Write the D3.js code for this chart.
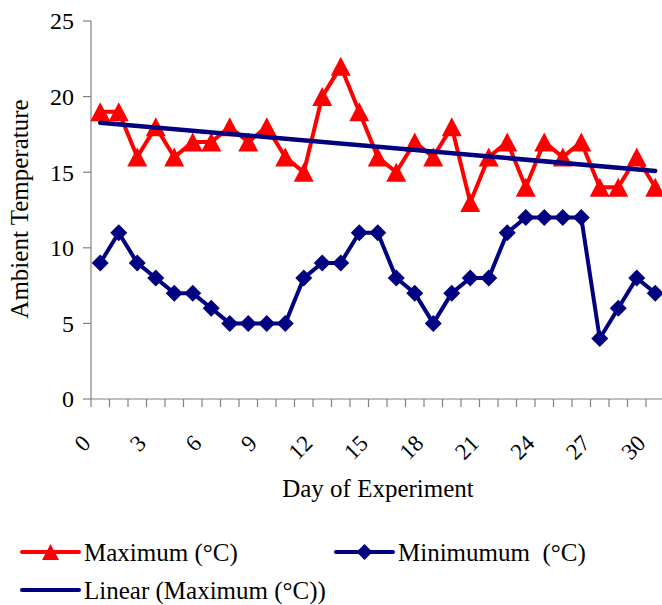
<!DOCTYPE html>
<html>
<head>
<meta charset="utf-8">
<script src="https://cdn.jsdelivr.net/npm/d3@7"></script>
<style>
  body { margin: 0; background: #fff; }
</style>
</head>
<body>
<svg id="chart" width="662" height="605"></svg>
<script>
// day index for each observation
const days = d3.range(0, 31);
const maxTemp = [19, 19, 16, 18, 16, 17, 17, 18, 17, 18, 16, 15, 20, 22, 19, 16,
                 15, 17, 16, 18, 13, 16, 17, 14, 17, 16, 17, 14, 14, 16, 14];
const minTemp = [9, 11, 9, 8, 7, 7, 6, 5, 5, 5, 5, 8, 9, 9, 11, 11,
                 8, 7, 5, 7, 8, 8, 11, 12, 12, 12, 12, 4, 6, 8, 7];
const yTicks = [0, 5, 10, 15, 20, 25];
const xLabelDays = [0, 3, 6, 9, 12, 15, 18, 21, 24, 27, 30];

const RED = '#ff0000', NAVY = '#000080', AXIS = '#808080';
const FONT = 'Liberation Serif';

const svg = d3.select('#chart');

const x = d3.scaleBand().domain(days).range([91, 664.5]);
const y = d3.scaleLinear().domain([0, 25]).range([399, 21]);
const cx = d => x(d) + x.bandwidth() / 2;

function addText(sel) {
    return sel.append('text').attr('font-family', FONT).attr('fill', '#000');
}

// axes
svg.append('line').attr('x1', 91).attr('x2', 91).attr('y1', y(25)).attr('y2', y(0))
    .attr('stroke', AXIS).attr('stroke-width', 1.2);
svg.append('line').attr('x1', 91).attr('x2', 664.5).attr('y1', y(0)).attr('y2', y(0))
    .attr('stroke', AXIS).attr('stroke-width', 1.2);

svg.append('g').selectAll('line').data(yTicks).enter().append('line')
    .attr('x1', 83).attr('x2', 91).attr('y1', d => y(d)).attr('y2', d => y(d))
    .attr('stroke', AXIS).attr('stroke-width', 1.2);
svg.append('g').attr('font-family', FONT).selectAll('text').data(yTicks).enter().append('text')
    .attr('x', 74).attr('y', d => y(d)).attr('dy', '0.35em')
    .attr('text-anchor', 'end').attr('font-size', '24px').text(d => d);

// x ticks at category boundaries
svg.append('g').selectAll('line').data(days.concat([31])).enter().append('line')
    .attr('x1', d => d < 31 ? x(d) : 664.5).attr('x2', d => d < 31 ? x(d) : 664.5)
    .attr('y1', y(0)).attr('y2', y(0) + 8)
    .attr('stroke', AXIS).attr('stroke-width', 1.2);

svg.append('g').attr('font-family', FONT).selectAll('text').data(xLabelDays).enter().append('text')
    .attr('transform', d => `translate(${cx(d) - 14},439) rotate(-45)`)
    .attr('dy', '0.35em').attr('text-anchor', 'end').attr('font-size', '23px')
    .text(d => d);

// axis titles
addText(svg).attr('transform', 'translate(28,209) rotate(-90)')
    .attr('text-anchor', 'middle').attr('font-size', '25px').text('Ambient Temperature');
addText(svg).attr('x', 378).attr('y', 497)
    .attr('text-anchor', 'middle').attr('font-size', '25px').text('Day of Experiment');

// markers
const triPath = (w, h) => `M0,${-h / 2}L${w / 2},${h / 2}L${-w / 2},${h / 2}Z`;
const diaPath = r => `M0,${-r}L${r},0L0,${r}L${-r},0Z`;

const line = d3.line().x((d, i) => cx(days[i])).y(d => y(d));

// linear trend of maximum
const n = maxTemp.length;
const mx = d3.mean(days), my = d3.mean(maxTemp);
const slope = d3.sum(days, (d, i) => (d - mx) * (maxTemp[i] - my)) / d3.sum(days, d => (d - mx) ** 2);
const intercept = my - slope * mx;
const trend = [days[0], days[n - 1]];

// minimum series
svg.append('path').datum(minTemp).attr('d', line)
    .attr('fill', 'none').attr('stroke', NAVY).attr('stroke-width', 4).attr('stroke-linejoin', 'round');
svg.append('g').selectAll('path').data(minTemp).enter().append('path')
    .attr('d', diaPath(8.5))
    .attr('transform', (d, i) => `translate(${cx(days[i])},${y(d)})`)
    .attr('fill', NAVY);

// maximum series
svg.append('path').datum(maxTemp).attr('d', line)
    .attr('fill', 'none').attr('stroke', RED).attr('stroke-width', 4).attr('stroke-linejoin', 'round');
svg.append('g').selectAll('path').data(maxTemp).enter().append('path')
    .attr('d', triPath(20, 19))
    .attr('transform', (d, i) => `translate(${cx(days[i])},${y(d)})`)
    .attr('fill', RED);

// trend line on top
svg.append('line')
    .attr('x1', cx(trend[0])).attr('y1', y(intercept + slope * trend[0]))
    .attr('x2', cx(trend[1])).attr('y2', y(intercept + slope * trend[1]))
    .attr('stroke', NAVY).attr('stroke-width', 4.5).attr('stroke-linecap', 'round');

// legend
const legend = svg.append('g');
function legendItem(x0, yy, color, marker, label) {
    legend.append('line').attr('x1', x0).attr('x2', x0 + 57).attr('y1', yy).attr('y2', yy)
        .attr('stroke', color).attr('stroke-width', 4).attr('stroke-linecap', 'round');
    if (marker) legend.append('path').attr('d', marker)
        .attr('transform', `translate(${x0 + 28.5},${yy})`).attr('fill', color);
    addText(legend).attr('x', x0 + 62).attr('y', yy + 9).attr('font-size', '25px')
        .attr('xml:space', 'preserve').style('white-space', 'pre').text(label);
}
legendItem(22, 552, RED, triPath(17, 16), 'Maximum (°C)');
legendItem(336, 552, NAVY, diaPath(8), 'Minimumum  (°C)');
legendItem(22, 590, NAVY, null, 'Linear (Maximum (°C))');
</script>
</body>
</html>
